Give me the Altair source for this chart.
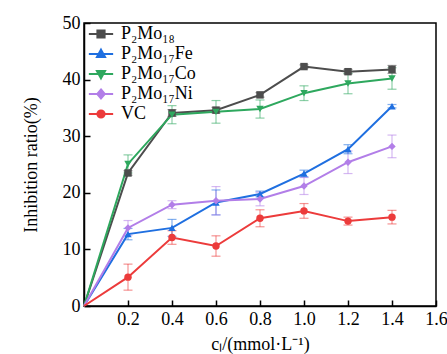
import altair as alt
import pandas as pd

x_vals = [0, 0.2, 0.4, 0.6, 0.8, 1.0, 1.2, 1.4]
series = ["P₂Mo₁₈", "P₂Mo₁₇Fe", "P₂Mo₁₇Co", "P₂Mo₁₇Ni", "VC"]
colors = ["#4d4d4d", "#1f6fe0", "#2ea85e", "#b27ee8", "#ec3b3b"]
shapes = ["square", "triangle-up", "triangle-down", "diamond", "circle"]
legend_paths = [
    "M-1.35,0H1.35M-0.4,-0.4H0.4V0.4H-0.4Z",
    "M-1.35,0H1.35M0,-0.48L0.45,0.34L-0.45,0.34Z",
    "M-1.35,0H1.35M0,0.48L0.45,-0.34L-0.45,-0.34Z",
    "M-1.35,0H1.35M0,-0.5L0.42,0L0,0.5L-0.42,0Z",
    "M-1.35,0H1.35M0.4,0A0.4,0.4,0,1,1,-0.4,0A0.4,0.4,0,1,1,0.4,0Z",
]

p2mo18 = [0, 23.5, 34.1, 34.6, 37.3, 42.3, 41.4, 41.8]
p2mo18_err = [0, 0.4, 0.6, 0.5, 0.4, 0.3, 0.4, 0.7]
fe = [0, 12.7, 13.8, 18.3, 19.8, 23.4, 27.7, 35.3]
fe_err = [0, 1.0, 1.5, 2.2, 0.5, 0.6, 0.8, 0.3]
co = [0, 25.1, 33.8, 34.3, 34.8, 37.6, 39.3, 40.2]
co_err = [0, 1.6, 1.6, 2.0, 1.6, 1.3, 1.8, 1.9]
ni = [0, 13.8, 17.9, 18.6, 18.9, 21.2, 25.4, 28.2]
ni_err = [0, 1.3, 0.7, 2.5, 1.2, 1.5, 2.0, 2.0]
vc = [0, 5.1, 12.1, 10.6, 15.5, 16.8, 15.0, 15.7]
vc_err = [0, 2.3, 1.2, 1.8, 1.5, 1.3, 0.7, 1.2]

y_ticks = [0, 10, 20, 30, 40, 50]
x_ticks = [0.2, 0.4, 0.6, 0.8, 1.0, 1.2, 1.4, 1.6]

rows = []
for name, vals, errs in zip(series, [p2mo18, fe, co, ni, vc],
                            [p2mo18_err, fe_err, co_err, ni_err, vc_err]):
    for xv, v, e in zip(x_vals, vals, errs):
        rows.append({"x": xv, "y": v, "lo": v - e, "hi": v + e, "series": name, "s2": name})
df = pd.DataFrame(rows)

FONT = "Liberation Serif"
W, H = 352, 283

xs = alt.Scale(domain=[0, 1.6], nice=False, zero=False)
ys = alt.Scale(domain=[0, 50], nice=False)
col = alt.Color("series:N", scale=alt.Scale(domain=series, range=colors), legend=None)

x_axis = alt.Axis(values=x_ticks, format=".1f", ticks=False, grid=False,
                  title="cₗ/(mmol·L⁻¹)", labelFontSize=18, titleFontSize=18,
                  labelFont=FONT, titleFont=FONT, labelColor="black", titleColor="black",
                  titleFontWeight="normal",
                  domainColor="black", domainWidth=1.5, labelPadding=4, titlePadding=7,
                  labelFlush=False)
y_axis = alt.Axis(values=y_ticks, ticks=False, grid=False, title="Inhibition ratio(%)",
                  labelFontSize=18, titleFontSize=18, labelFont=FONT, titleFont=FONT,
                  titleFontWeight="normal",
                  labelColor="black", titleColor="black", domainColor="black",
                  domainWidth=1.5, labelPadding=4, titlePadding=22, labelFlush=False)

base = alt.Chart(df)
X = alt.X("x:Q", scale=xs, axis=x_axis)
Y = alt.Y("y:Q", scale=ys, axis=y_axis)

err = base.transform_filter("datum.x > 0").mark_rule(strokeWidth=1.2, opacity=0.55).encode(
    x=X, y=alt.Y("lo:Q", scale=ys, axis=y_axis), y2="hi:Q", color=col)
cap_lo = base.transform_filter("datum.x > 0").mark_tick(thickness=1.2, size=9, opacity=0.55, orient="horizontal").encode(
    x=X, y=alt.Y("lo:Q", scale=ys, axis=y_axis), color=col)
cap_hi = base.transform_filter("datum.x > 0").mark_tick(thickness=1.2, size=9, opacity=0.55, orient="horizontal").encode(
    x=X, y=alt.Y("hi:Q", scale=ys, axis=y_axis), color=col)
lines = base.mark_line(strokeWidth=2).encode(x=X, y=Y, color=col, detail="series:N")
pts = base.transform_filter("datum.x > 0").mark_point(filled=True, size=55, opacity=1).encode(
    x=X, y=Y, color=col,
    shape=alt.Shape("series:N", scale=alt.Scale(domain=series, range=shapes), legend=None))

legend_layer = base.transform_filter("datum.x < -1").mark_point(filled=True, size=324, strokeWidth=2).encode(
    x=X, y=Y,
    color=col,
    shape=alt.Shape("s2:N", scale=alt.Scale(domain=series, range=legend_paths),
                    legend=alt.Legend(title=None, orient="none", legendX=7, legendY=1,
                                      labelFont=FONT, labelFontSize=18, labelColor="black",
                                      symbolSize=324, symbolStrokeWidth=2, rowPadding=1,
                                      labelOffset=10, symbolOffset=0, symbolOpacity=1,
                                      symbolFillColor=alt.ExprRef("scale('color', datum.value)"),
                                      symbolStrokeColor=alt.ExprRef("scale('color', datum.value)"))))

# inward ticks via offset axes on matching independent scales
tick_layer = alt.Chart(pd.DataFrame({"x": x_ticks, "y": [0] * len(x_ticks)})).mark_point(opacity=0).encode(
    x=alt.X("x:Q", scale=alt.Scale(domain=[0, 1.6], nice=False, zero=False),
            axis=alt.Axis(orient="top", offset=-H, values=x_ticks, labels=False, title=None,
                          domain=False, grid=False, tickSize=6, tickWidth=1.5, tickColor="black")),
    y=alt.Y("y:Q", scale=alt.Scale(domain=[0, 50], nice=False),
            axis=alt.Axis(orient="right", offset=-W, values=y_ticks, labels=False, title=None,
                          domain=False, grid=False, tickSize=6, tickWidth=1.5, tickColor="black")))

main = alt.layer(err, cap_lo, cap_hi, lines, pts, legend_layer).resolve_scale(shape="independent")

chart = alt.layer(main, tick_layer).resolve_scale(x="independent", y="independent").properties(
    width=W, height=H,
    padding={"left": 84, "top": 23, "right": 11, "bottom": 48},
    autosize=alt.AutoSizeParams(type="none"),
).configure_view(stroke="black", strokeWidth=1.5).configure_axis(labelFont=FONT, titleFont=FONT)

chart.save("out.html", embed_options={"renderer": "svg", "actions": False})
